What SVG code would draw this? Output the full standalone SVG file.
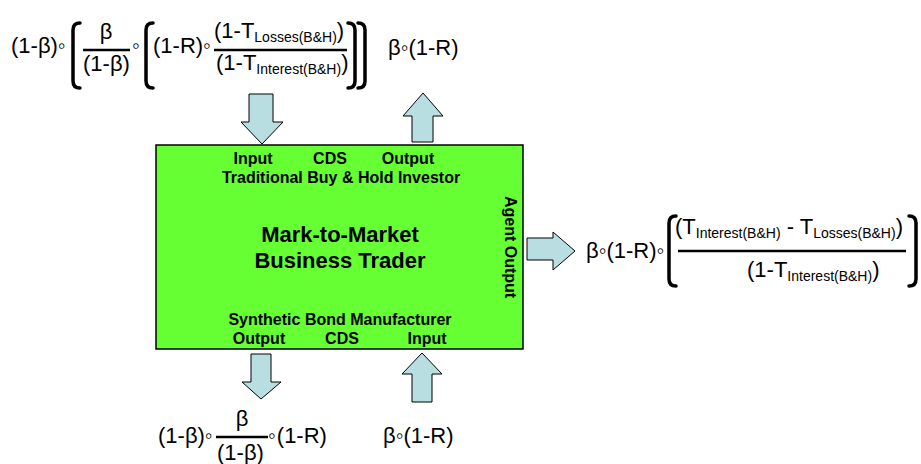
<svg xmlns="http://www.w3.org/2000/svg" width="921" height="464" viewBox="0 0 921 464">
<style>
.f{font-family:"Liberation Sans",Arial,"DejaVu Sans",sans-serif;font-size:22px;fill:#000}
.s{font-size:14px}
.b{font-family:"Liberation Sans",Arial,sans-serif;font-weight:bold;fill:#000}
.l{font-size:16px}
.t{font-size:22px}
.arr{fill:#B9DEE2;stroke:#000;stroke-width:1}
.br{fill:none;stroke:#000;stroke-width:3.5;stroke-linecap:round}
.fl{stroke:#000;stroke-width:2.5}
</style>
<g id="agent">
<rect x="156" y="145" width="367" height="204" fill="#66FF33" stroke="#000" stroke-width="1.5"/>
<text class="b l" x="253" y="164" text-anchor="middle">Input</text>
<text class="b l" x="330" y="164" text-anchor="middle">CDS</text>
<text class="b l" x="408" y="164" text-anchor="middle">Output</text>
<text class="b l" x="341" y="183" text-anchor="middle">Traditional Buy &amp; Hold Investor</text>
<text class="b t" x="340" y="242" text-anchor="middle">Mark-to-Market</text>
<text class="b t" x="340" y="268" text-anchor="middle">Business Trader</text>
<text class="b l" x="340" y="325" text-anchor="middle">Synthetic Bond Manufacturer</text>
<text class="b l" x="259" y="344" text-anchor="middle">Output</text>
<text class="b l" x="342" y="344" text-anchor="middle">CDS</text>
<text class="b l" x="427" y="344" text-anchor="middle">Input</text>
<text class="b l" transform="translate(505,247) rotate(90)" text-anchor="middle">Agent Output</text>
</g>
<g id="connectors">
<polygon class="arr" points="249,94 273,94 273,122 283,122 262,144 241,122 249,122"/>
<polygon class="arr" points="423,93 443,116 433,116 433,142 412,142 412,116 403,116"/>
<polygon class="arr" points="527,238 553,238 553,232 575,251 553,270 553,260 527,260"/>
<polygon class="arr" points="251,354 271,354 271,382 281,382 261,399 242,382 251,382"/>
<polygon class="arr" points="422,353 442,374 432,374 432,402 412,402 412,374 402,374"/>
</g>
<g id="formula-top-input">
<text class="f" x="11" y="53">(1-β)◦</text>
<path class="br" d="M80,23 Q73,23 73,30 L73,81 Q73,88 80,88"/>
<text class="f" x="106" y="39" text-anchor="middle">β</text>
<line class="fl" x1="83" y1="50" x2="130" y2="50"/>
<text class="f" x="83" y="71">(1-β)</text>
<text class="f" x="132" y="53">◦</text>
<path class="br" d="M153,23 Q146,23 146,30 L146,81 Q146,88 153,88"/>
<text class="f" x="153" y="53">(1-R)◦</text>
<text class="f" x="214" y="38">(1-T<tspan class="s" dy="4">Losses(B&amp;H)</tspan><tspan dy="-4">)</tspan></text>
<line class="fl" x1="214" y1="50" x2="347" y2="50"/>
<text class="f" x="216" y="70">(1-T<tspan class="s" dy="4">Interest(B&amp;H)</tspan><tspan dy="-4">)</tspan></text>
<path class="br" d="M348,23 Q355,23 355,30 L355,81 Q355,88 348,88"/>
<path class="br" d="M358,23 Q365,23 365,30 L365,81 Q365,88 358,88"/>
</g>
<g id="formula-top-output">
<text class="f" x="388" y="55">β◦(1-R)</text>
</g>
<g id="formula-right">
<text class="f" x="586" y="258">β◦(1-R)◦</text>
<path class="br" d="M676,216 Q669,216 669,223 L669,279 Q669,286 676,286"/>
<text class="f" x="675" y="234">(T<tspan class="s" dy="4">Interest(B&amp;H)</tspan><tspan dy="-4"> - T</tspan><tspan class="s" dy="4">Losses(B&amp;H)</tspan><tspan dy="-4">)</tspan></text>
<line class="fl" x1="678" y1="251" x2="906" y2="251"/>
<text class="f" x="747" y="277">(1-T<tspan class="s" dy="4">Interest(B&amp;H)</tspan><tspan dy="-4">)</tspan></text>
<path class="br" d="M909,216 Q916,216 916,223 L916,279 Q916,286 909,286"/>
</g>
<g id="formula-bottom-output">
<text class="f" x="158" y="443">(1-β)◦</text>
<text class="f" x="242" y="426" text-anchor="middle">β</text>
<line class="fl" x1="216" y1="437" x2="268" y2="437"/>
<text class="f" x="217" y="460">(1-β)</text>
<text class="f" x="268" y="443">◦<tspan dx="1">(1-R)</tspan></text>
</g>
<g id="formula-bottom-input">
<text class="f" x="383" y="443">β◦(1-R)</text>
</g>
</svg>
